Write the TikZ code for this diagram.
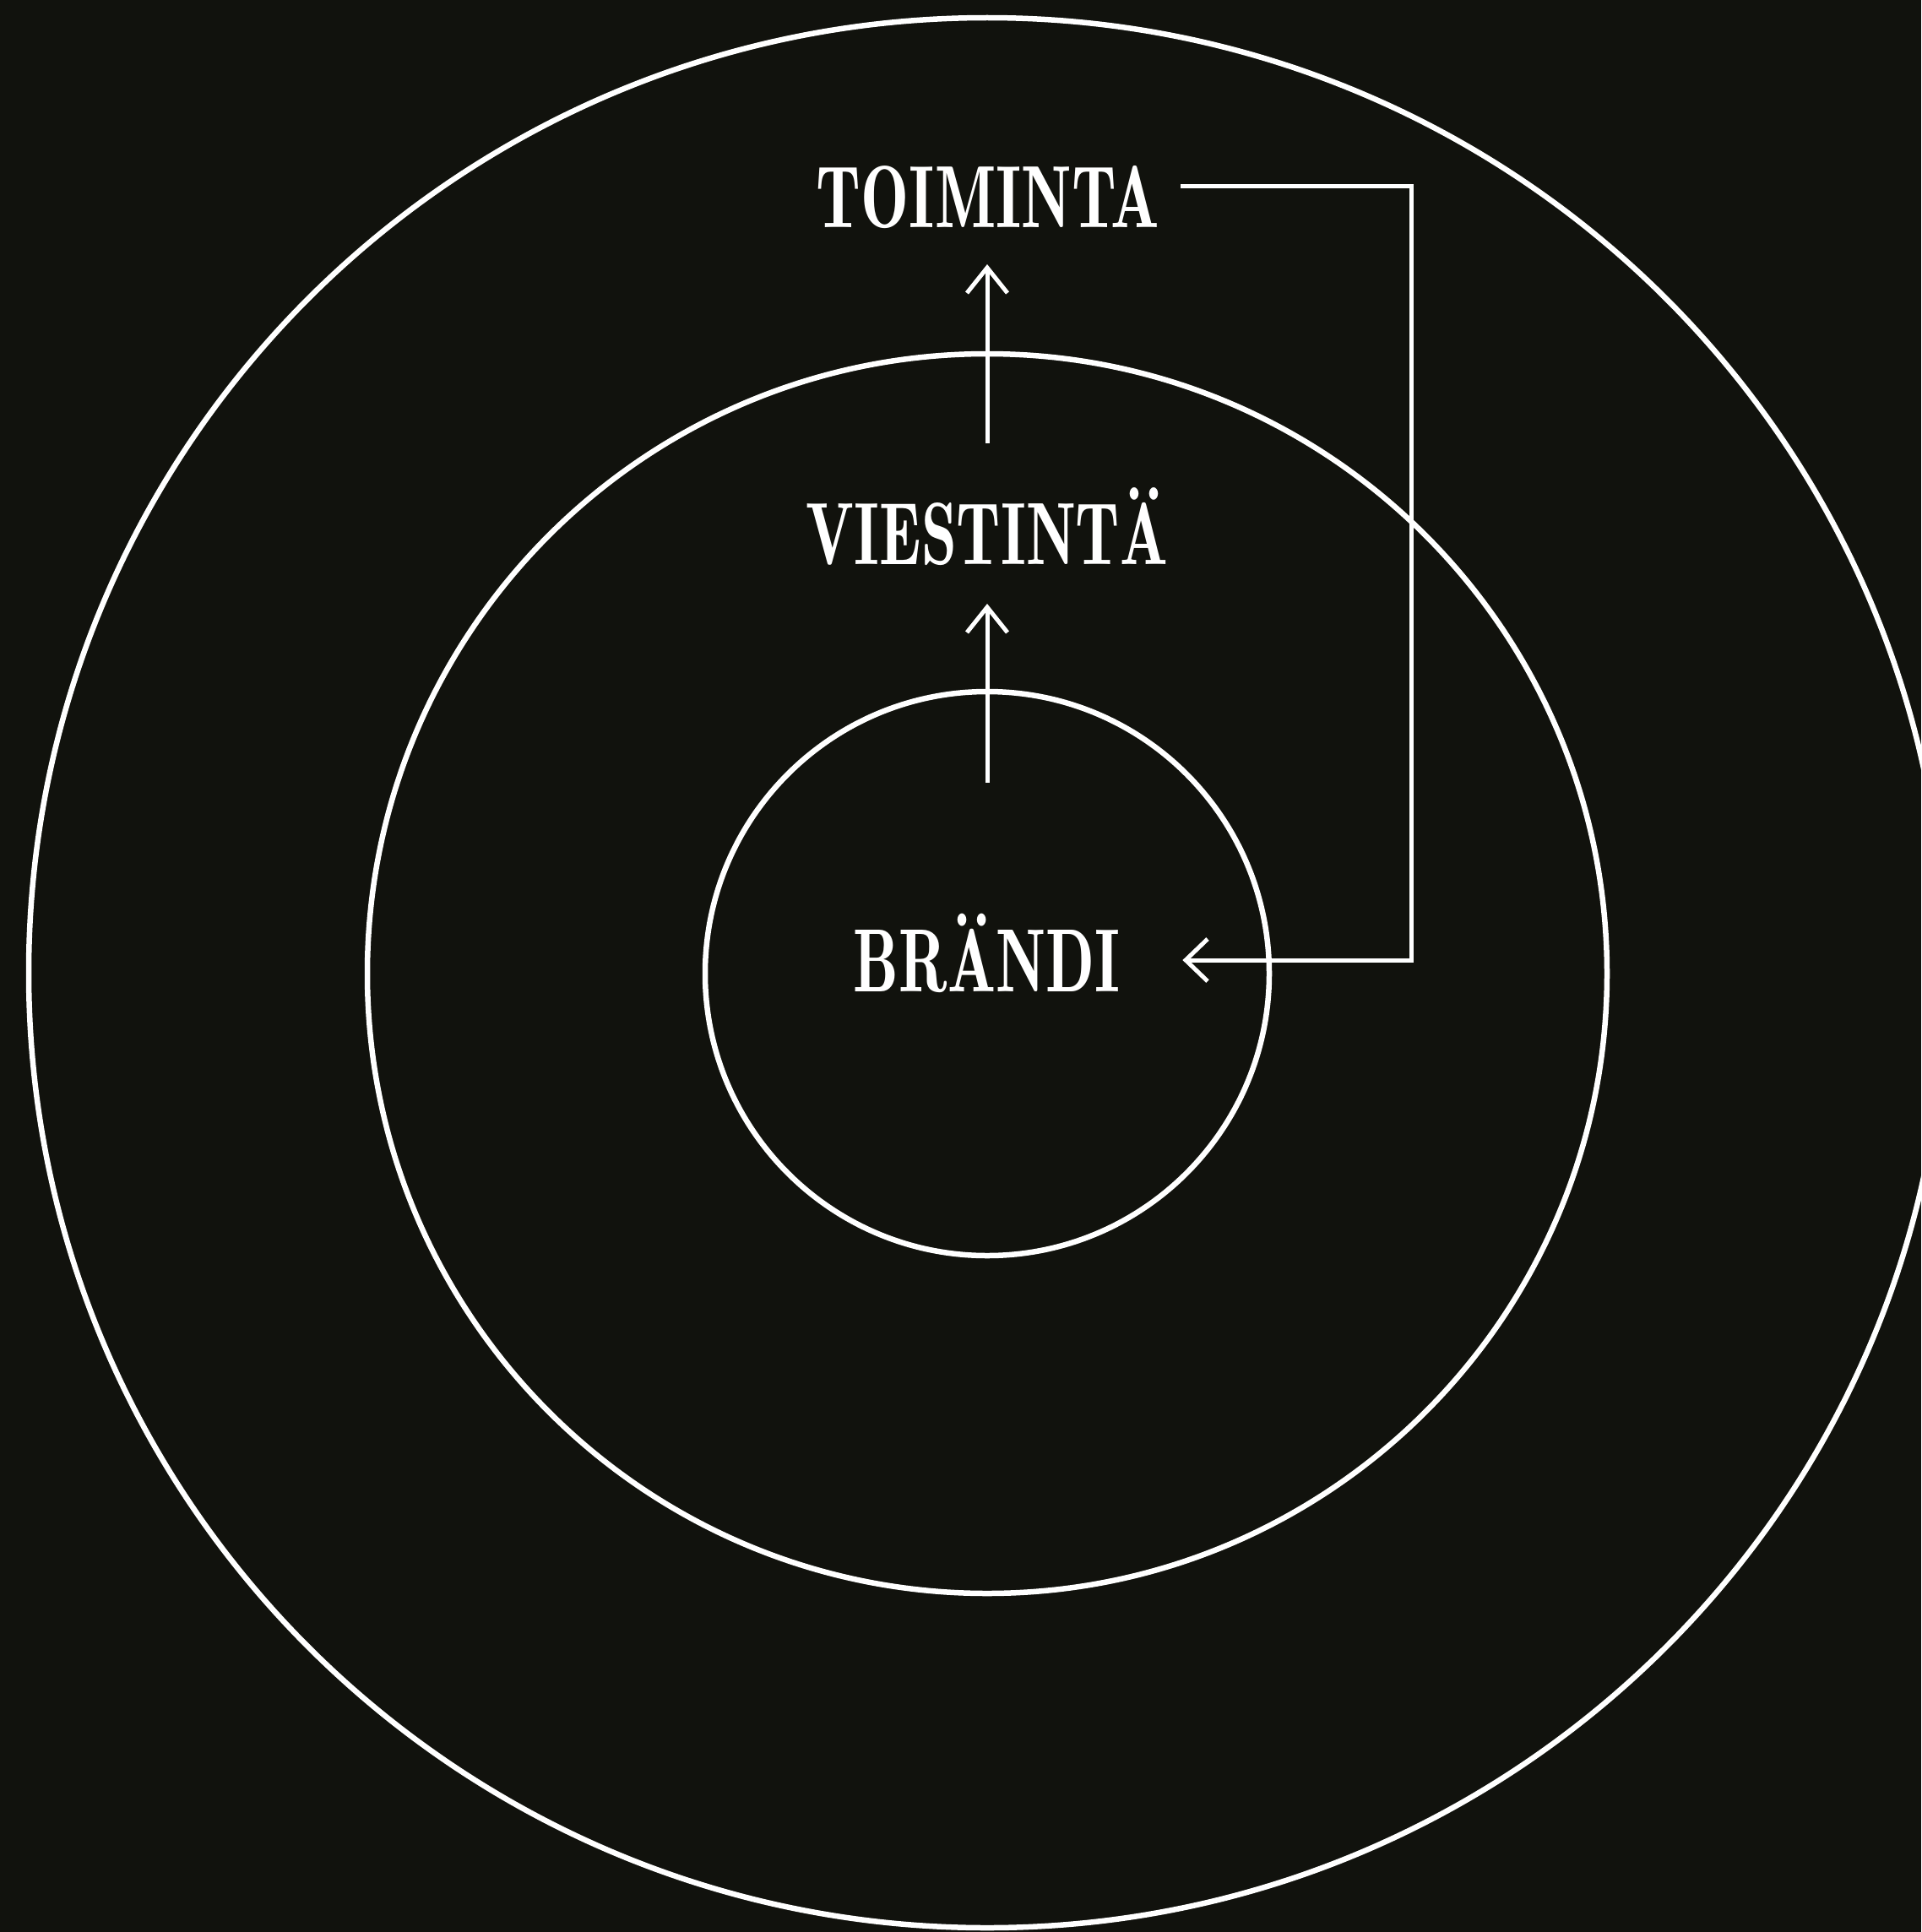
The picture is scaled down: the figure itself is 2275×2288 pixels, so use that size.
\documentclass[tikz,border=0pt]{standalone}
\usepackage{graphicx}
\definecolor{bg}{HTML}{11120D}
\begin{document}
\begin{tikzpicture}[x=1pt,y=-1pt,
  ring/.style={draw=white,line width=6.5pt},
  link/.style={draw=white,line width=5pt,line join=miter,miter limit=10},
  lbl/.style={inner sep=0pt,text=white,font=\fontseries{b}\selectfont,anchor=south}]
\fill[bg] (0,0) rectangle (2275,2288);
\useasboundingbox (0,0) rectangle (2275,2288);
\clip (0,0) rectangle (2275,2288);
% rings
\draw[ring] (1169,1152) ellipse [x radius=1135pt, y radius=1131pt];
\draw[ring] (1169,1153) circle [radius=734pt];
\draw[ring] (1169,1153) circle [radius=334pt];
% labels
\node[lbl] (toim) at (1170,271) {\resizebox{406pt}{73pt}{TOIMINTA}};
\node[lbl] (viest) at (1169,670) {\resizebox{428pt}{73pt}{VIESTINT\smash{Ä}}};
\node[lbl] (brandi) at (1168.5,1176) {\resizebox{315pt}{73pt}{BR\smash{Ä}NDI}};
% arrow brandi -> viestinta
\coordinate (a2s) at (1169,927);
\coordinate (a2e) at (1169,719);
\draw[link] (a2s) -- (a2e);
\draw[link] ([shift={(-24,30)}]a2e) -- (a2e) -- ([shift={(24,30)}]a2e);
% arrow viestinta -> toiminta
\coordinate (a1s) at (1169,525);
\coordinate (a1e) at (1169,317);
\draw[link] (a1s) -- (a1e);
\draw[link] ([shift={(-24,30)}]a1e) -- (a1e) -- ([shift={(24,30)}]a1e);
% feedback toiminta -> brandi
\coordinate (c0) at (1398,220);
\coordinate (c2) at (1671,1137);
\coordinate (c3) at (1404,1137);
\draw[link] (c0) -| (c2) -- (c3);
\draw[link] ([shift={(26,-25)}]c3) -- (c3) -- ([shift={(26,25)}]c3);
\end{tikzpicture}
\end{document}
